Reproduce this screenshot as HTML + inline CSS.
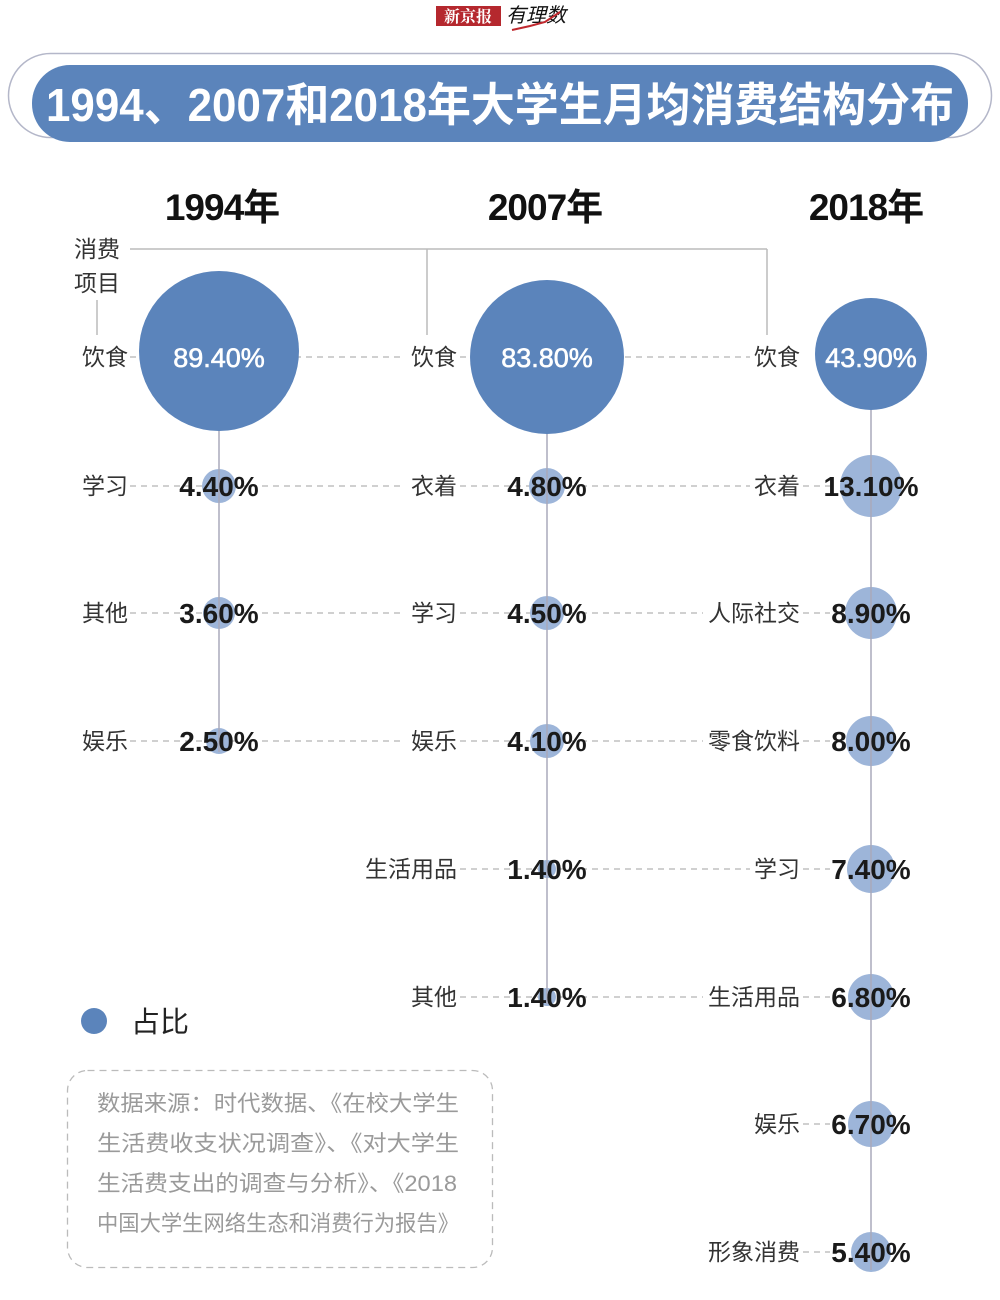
<!DOCTYPE html>
<html><head><meta charset="utf-8"><style>
html,body{margin:0;padding:0;background:#fff;}
svg{display:block;}
text{font-family:"Liberation Sans","Noto Sans CJK SC",sans-serif;}
.lab{font-size:23px;fill:#333;text-anchor:end;}
.pct{font-size:28px;font-weight:bold;fill:#1a1a1a;text-anchor:middle;}
.wp{font-size:27px;fill:#fff;text-anchor:middle;stroke:#fff;stroke-width:0.6;}
.yr{font-size:37px;font-weight:bold;fill:#111;text-anchor:middle;letter-spacing:-1px;}
.src{font-size:22px;fill:#9a9a9a;}
</style></head><body>
<svg width="1000" height="1300" viewBox="0 0 1000 1300" xmlns="http://www.w3.org/2000/svg">
<rect x="436" y="6" width="65" height="20" fill="#b5282e"/>
<text x="468" y="22" font-size="16" fill="#fff" text-anchor="middle" font-weight="bold" style="font-family:'Noto Serif CJK SC',serif">新京报</text>
<text x="506" y="22" font-size="20" fill="#111" font-style="italic">有理数</text>
<polyline points="512,30 530,26 545,22 560,12" fill="none" stroke="#c0282e" stroke-width="2"/>
<rect x="8.5" y="53.5" width="983" height="84" rx="42" fill="#fff" stroke="#b4b7c9" stroke-width="1.5"/>
<rect x="32" y="65" width="936" height="77" rx="38" fill="#5b84bb"/>
<text x="46" y="121" font-size="46" font-weight="bold" fill="#fff" textLength="908" lengthAdjust="spacingAndGlyphs">1994、2007和2018年大学生月均消费结构分布</text>
<text class="yr" x="222" y="220">1994年</text>
<text class="yr" x="545" y="220">2007年</text>
<text class="yr" x="866" y="220">2018年</text>
<text x="74" y="257" font-size="23" fill="#333">消费</text>
<text x="74" y="291" font-size="23" fill="#333">项目</text>
<g stroke="#bbb" stroke-width="1.5" fill="none">
<line x1="130" y1="249" x2="767" y2="249"/>
<line x1="427" y1="249" x2="427" y2="335"/>
<line x1="767" y1="249" x2="767" y2="335"/>
<line x1="97" y1="300" x2="97" y2="335"/>
</g>
<g stroke="#b5b5b5" stroke-width="1.3" stroke-dasharray="6,5">
<line x1="130" y1="357" x2="405" y2="357"/><line x1="460" y1="357" x2="750" y2="357"/>
<line x1="130" y1="486" x2="405" y2="486"/><line x1="460" y1="486" x2="750" y2="486"/><line x1="803" y1="486" x2="830" y2="486"/>
<line x1="130" y1="613" x2="405" y2="613"/><line x1="460" y1="613" x2="703" y2="613"/><line x1="803" y1="613" x2="830" y2="613"/>
<line x1="130" y1="741" x2="405" y2="741"/><line x1="460" y1="741" x2="703" y2="741"/><line x1="803" y1="741" x2="830" y2="741"/>
<line x1="460" y1="869" x2="750" y2="869"/><line x1="803" y1="869" x2="830" y2="869"/>
<line x1="460" y1="997" x2="703" y2="997"/><line x1="803" y1="997" x2="830" y2="997"/>
<line x1="803" y1="1124" x2="830" y2="1124"/>
<line x1="803" y1="1252" x2="830" y2="1252"/>
</g>
<g fill="#9db5d9">
<circle cx="219" cy="486" r="17"/><circle cx="219" cy="613" r="16"/><circle cx="219" cy="741" r="13"/>
<circle cx="547" cy="486" r="18"/><circle cx="547" cy="613" r="17"/><circle cx="547" cy="741" r="17"/>
<circle cx="547" cy="869" r="9"/><circle cx="547" cy="997" r="9"/>
<circle cx="871" cy="486" r="31"/><circle cx="871" cy="613" r="26"/><circle cx="871" cy="741" r="25"/>
<circle cx="871" cy="869" r="24"/><circle cx="871" cy="997" r="23"/><circle cx="871" cy="1124" r="23"/><circle cx="871" cy="1252" r="20"/>
</g>
<g stroke="#aab" stroke-width="1.5">
<line x1="219" y1="420" x2="219" y2="752"/>
<line x1="547" y1="420" x2="547" y2="1004"/>
<line x1="871" y1="400" x2="871" y2="1270"/>
</g>
<g fill="#5b84bb">
<circle cx="219" cy="351" r="80"/>
<circle cx="547" cy="357" r="77"/>
<circle cx="871" cy="354" r="56"/>
</g>
<text class="wp" x="219" y="367">89.40%</text>
<text class="wp" x="547" y="367">83.80%</text>
<text class="wp" x="871" y="367">43.90%</text>
<text class="lab" x="128" y="365">饮食</text>
<text class="lab" x="128" y="494">学习</text>
<text class="lab" x="128" y="621">其他</text>
<text class="lab" x="128" y="749">娱乐</text>
<text class="pct" x="219" y="496">4.40%</text>
<text class="pct" x="219" y="623">3.60%</text>
<text class="pct" x="219" y="751">2.50%</text>
<text class="lab" x="457" y="365">饮食</text>
<text class="lab" x="457" y="494">衣着</text>
<text class="lab" x="457" y="621">学习</text>
<text class="lab" x="457" y="749">娱乐</text>
<text class="lab" x="457" y="877">生活用品</text>
<text class="lab" x="457" y="1005">其他</text>
<text class="pct" x="547" y="496">4.80%</text>
<text class="pct" x="547" y="623">4.50%</text>
<text class="pct" x="547" y="751">4.10%</text>
<text class="pct" x="547" y="879">1.40%</text>
<text class="pct" x="547" y="1007">1.40%</text>
<text class="lab" x="800" y="365">饮食</text>
<text class="lab" x="800" y="494">衣着</text>
<text class="lab" x="800" y="621">人际社交</text>
<text class="lab" x="800" y="749">零食饮料</text>
<text class="lab" x="800" y="877">学习</text>
<text class="lab" x="800" y="1005">生活用品</text>
<text class="lab" x="800" y="1132">娱乐</text>
<text class="lab" x="800" y="1260">形象消费</text>
<text class="pct" x="871" y="496">13.10%</text>
<text class="pct" x="871" y="623">8.90%</text>
<text class="pct" x="871" y="751">8.00%</text>
<text class="pct" x="871" y="879">7.40%</text>
<text class="pct" x="871" y="1007">6.80%</text>
<text class="pct" x="871" y="1134">6.70%</text>
<text class="pct" x="871" y="1262">5.40%</text>
<circle cx="94" cy="1021" r="13" fill="#5b84bb"/>
<text x="131" y="1032" font-size="29" fill="#222">占比</text>
<rect x="67.5" y="1070.5" width="425" height="197" rx="20" fill="none" stroke="#bbb" stroke-width="1.3" stroke-dasharray="7,5"/>
<text class="src" x="97" y="1111" textLength="362" lengthAdjust="spacingAndGlyphs">数据来源：时代数据、《在校大学生</text>
<text class="src" x="97" y="1151" textLength="362" lengthAdjust="spacingAndGlyphs">生活费收支状况调查》、《对大学生</text>
<text class="src" x="97" y="1191" textLength="360" lengthAdjust="spacingAndGlyphs">生活费支出的调查与分析》、《2018</text>
<text class="src" x="97" y="1231" textLength="362" lengthAdjust="spacingAndGlyphs">中国大学生网络生态和消费行为报告》</text>
</svg>
</body></html>
